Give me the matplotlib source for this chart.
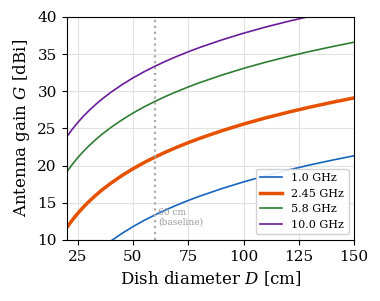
import matplotlib
matplotlib.use('Agg')
import matplotlib.pyplot as plt

plt.rcParams['font.family'] = 'DejaVu Serif'
plt.rcParams['mathtext.fontset'] = 'dejavuserif'

# dish diameter (cm) and gain readings (dBi) per frequency
diam = [20, 22.5, 25, 27.5, 30, 33, 36, 40, 45, 50, 55, 60, 65, 70, 75, 80,
        90, 100, 110, 120, 130, 140, 150]
gain_1g0 = [3.82, 4.84, 5.76, 6.59, 7.34, 8.17, 8.93, 9.84, 10.86, 11.78, 12.61,
            13.36, 14.06, 14.70, 15.30, 15.86, 16.88, 17.80, 18.63, 19.38, 20.08,
            20.72, 21.32]
gain_2g45 = [11.60, 12.62, 13.54, 14.37, 15.12, 15.95, 16.71, 17.62, 18.64, 19.56,
             20.39, 21.14, 21.84, 22.48, 23.08, 23.64, 24.66, 25.58, 26.41, 27.16,
             27.86, 28.50, 29.10]
gain_5g8 = [19.09, 20.11, 21.03, 21.86, 22.61, 23.44, 24.20, 25.11, 26.13, 27.05,
            27.88, 28.63, 29.33, 29.97, 30.57, 31.13, 32.15, 33.07, 33.90, 34.65,
            35.35, 35.99, 36.59]
gain_10g = [23.82, 24.84, 25.76, 26.59, 27.34, 28.17, 28.93, 29.84, 30.86, 31.78,
            32.61, 33.36, 34.06, 34.70, 35.30, 35.86, 36.88, 37.80, 38.63, 39.38,
            40.08, 40.72, 41.32]
baseline = 60

fig = plt.figure(figsize=(3.8, 3.01), dpi=100)
ax = fig.add_axes([0.175, 0.203, 0.757, 0.741])

ax.plot(diam, gain_1g0, color='#1565c0', lw=1.2, label='1.0 GHz')
ax.plot(diam, gain_2g45, color='#e65100', lw=2.5, label='2.45 GHz')
ax.plot(diam, gain_5g8, color='#2e7d32', lw=1.2, label='5.8 GHz')
ax.plot(diam, gain_10g, color='#6a1b9a', lw=1.2, label='10.0 GHz')

ax.axvline(baseline, color='#aaaaaa', ls=':', lw=1.6)
ax.text(baseline + 1.5, 11.8, '60 cm\n(baseline)', fontsize=6.5, color='#999999',
        va='bottom', linespacing=1.1)

ax.set_xlim(20, 150)
ax.set_ylim(10, 40)
ax.set_xticks([25, 50, 75, 100, 125, 150])
ax.set_yticks([10, 15, 20, 25, 30, 35, 40])
ax.tick_params(labelsize=11)
ax.grid(True, color='#e2e2e2', lw=0.8)
ax.set_xlabel('Dish diameter $D$ [cm]', fontsize=12)
ax.set_ylabel('Antenna gain $G$ [dBi]', fontsize=12)
ax.legend(loc='lower right', fontsize=8, framealpha=0.9, edgecolor='#cccccc',
          handlelength=2.0)

fig.savefig('out.png', dpi=100)
